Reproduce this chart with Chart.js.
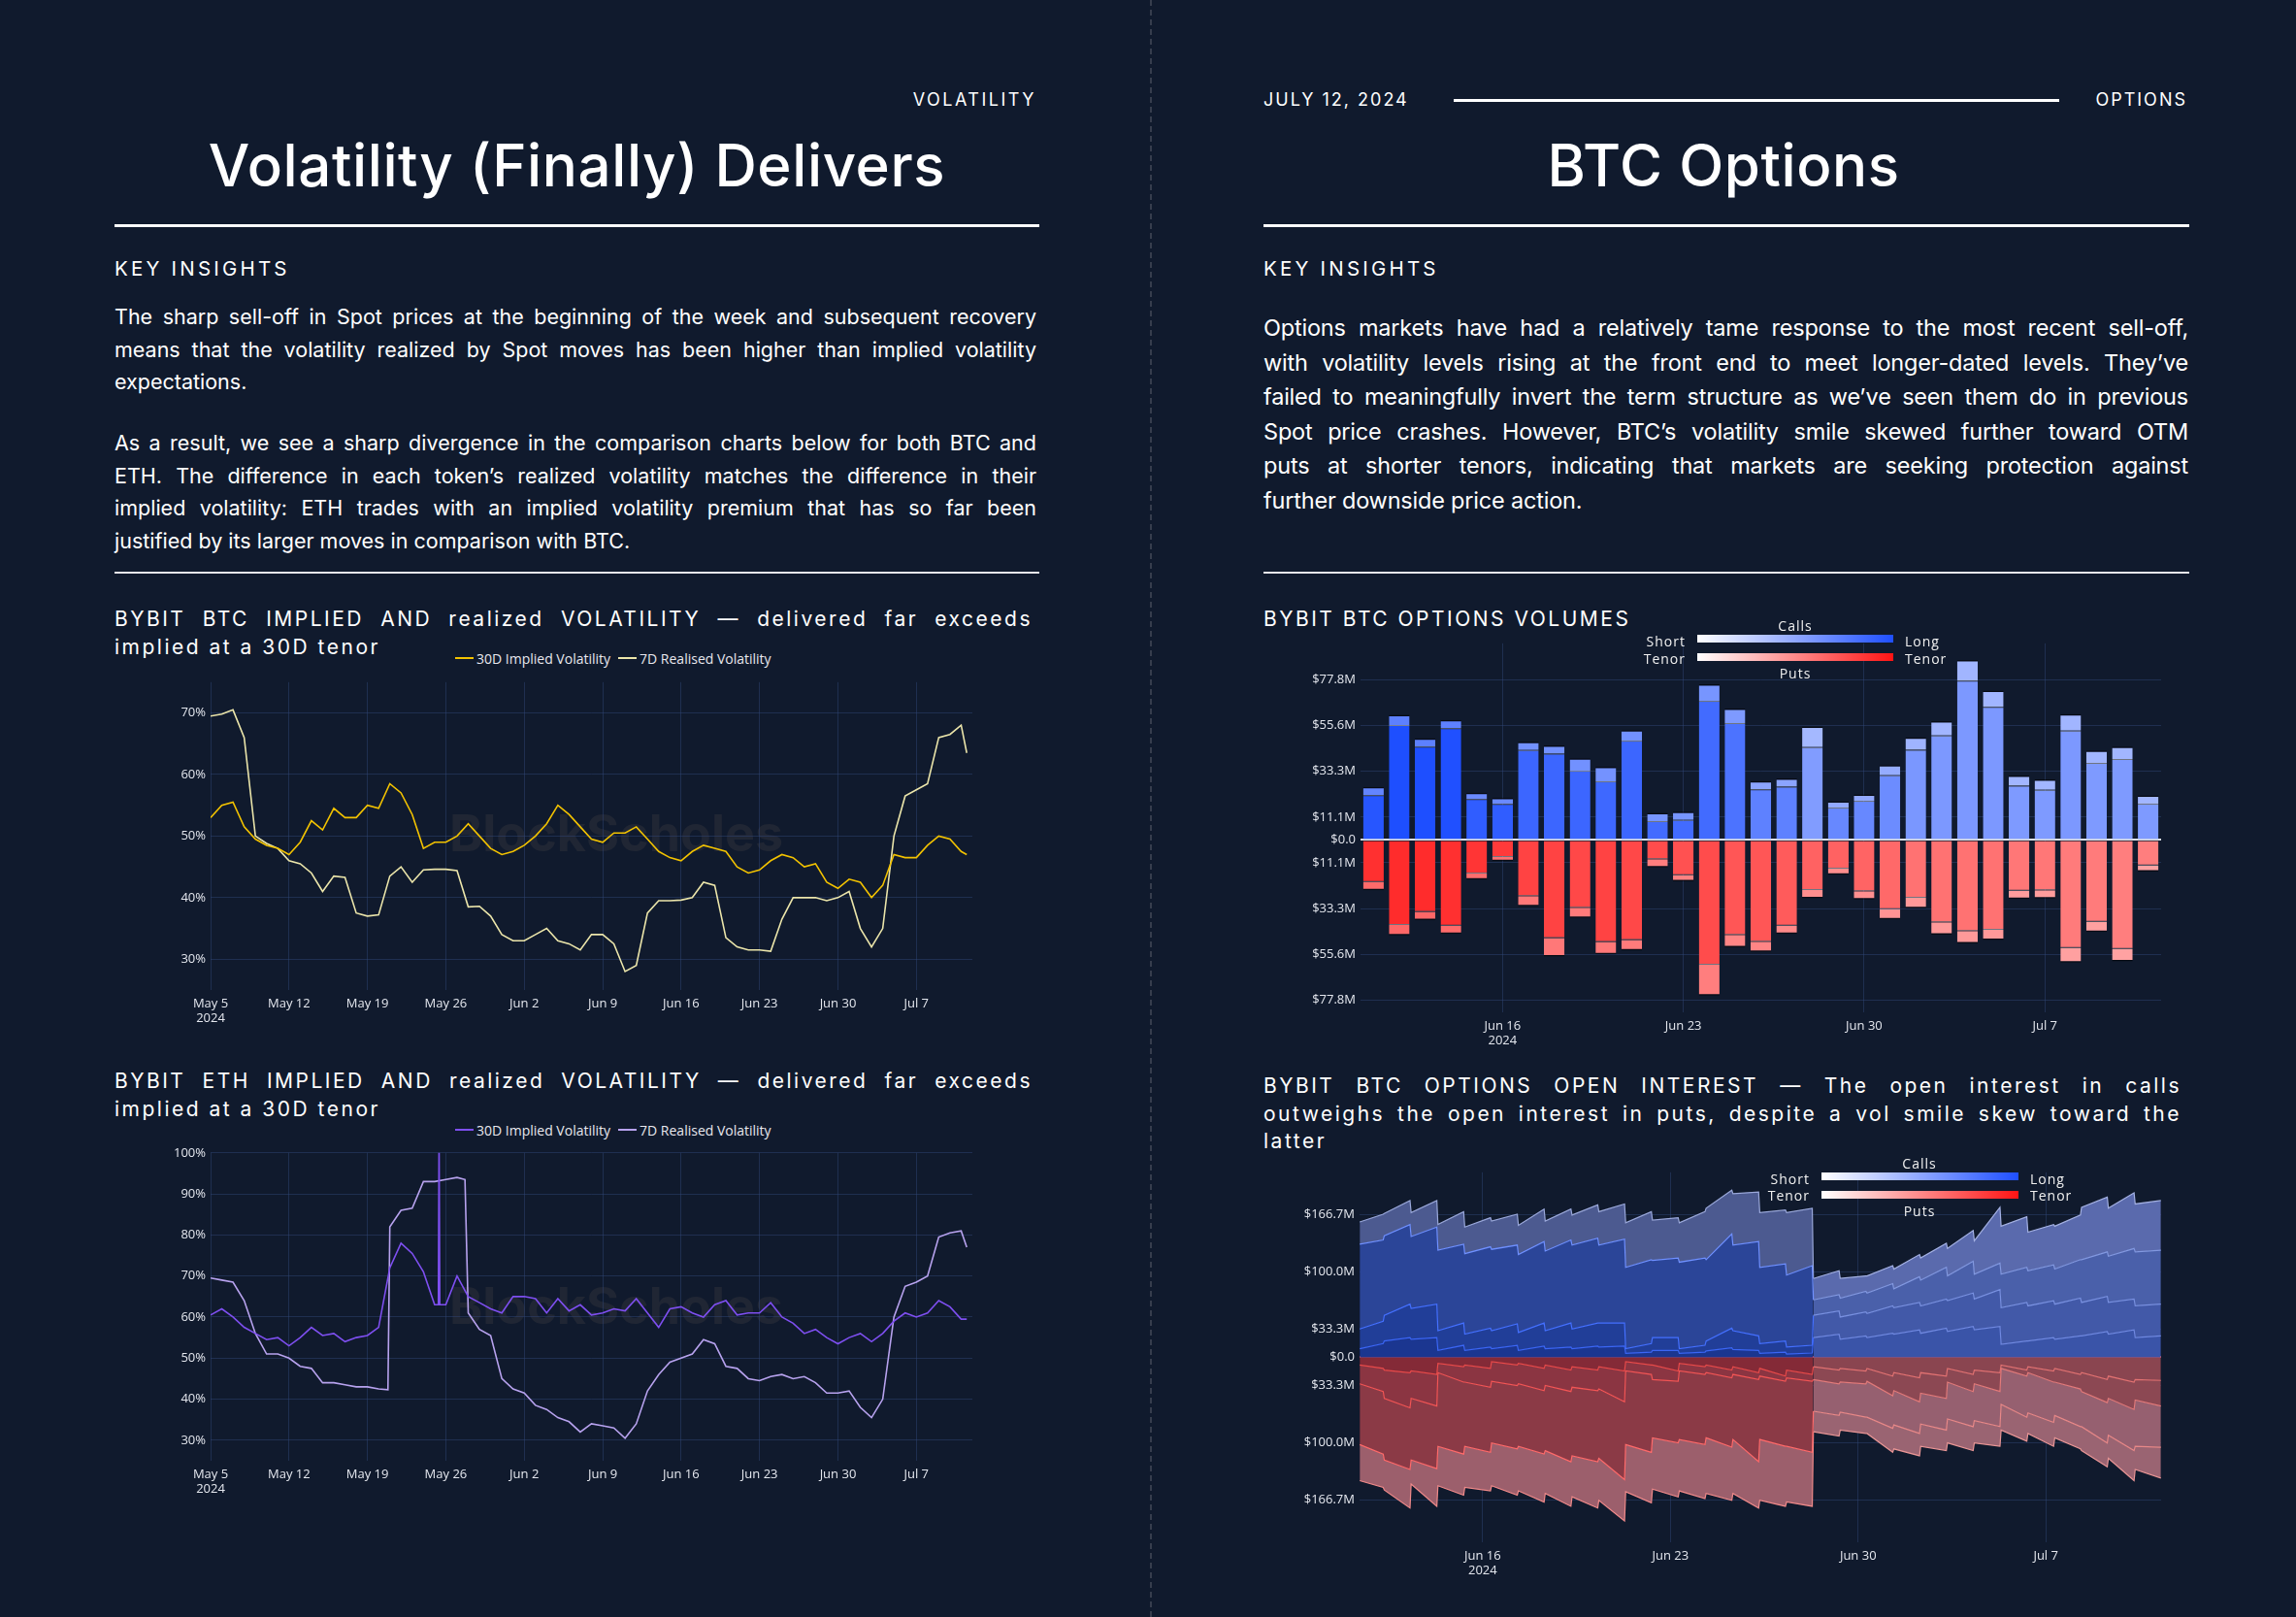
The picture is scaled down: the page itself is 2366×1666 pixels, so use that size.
<!DOCTYPE html>
<html>
<head>
<meta charset="utf-8">
<title>Volatility (Finally) Delivers / BTC Options</title>
<script src="https://cdn.jsdelivr.net/npm/chart.js@4.4.1/dist/chart.umd.min.js"></script>
<style>
  html, body { margin: 0; padding: 0; background: #101a2d; }
  body { position: relative; width: 2366px; height: 1666px; overflow: hidden; font-family: Inter, "Open Sans", sans-serif; color: #fff; }
  .a { position: absolute; white-space: nowrap; }
  .kicker { font-size: 18px; line-height: 22px; letter-spacing: 2.5px; }
  .h1 { font-size: 60px; line-height: 70px; text-align: center; font-weight: 500; letter-spacing: 0.6px; }
  .rule { background: #fff; height: 3px; }
  .thin { background: #e6e6ea; height: 2px; }
  .ki { font-size: 20.5px; line-height: 24px; letter-spacing: 3.2px; }
  .para div, .ctitle div { text-align: justify; text-align-last: justify; white-space: nowrap; }
  .para div.last, .ctitle div.last { text-align-last: left; }
  .ctitle { font-size: 21px; line-height: 29px; letter-spacing: 2.5px; }
  .legend { font-family: "Open Sans", sans-serif; font-size: 14px; color: #e8e8ee; display: flex; align-items: center; height: 18px; }
  .legend i { display: inline-block; width: 19px; height: 2px; margin-right: 3px; }
  .cb { font-family: "Open Sans", sans-serif; font-size: 14px; letter-spacing: 1px; color: #f0f0f0; line-height: 18px; }
  .wm { font-size: 52px; font-weight: 700; color: #202634; transform: translate(-50%, -50%); }
  .box { position: absolute; }
</style>
</head>
<body>

<div class="a" style="left:1185px;top:0;height:1666px;border-left:2px dashed #363d4d"></div>

<!-- left page -->
<div class="a kicker" style="left:118px;top:92px;width:950px;text-align:right">VOLATILITY</div>
<div class="a h1" style="left:118px;top:135px;width:953px">Volatility (Finally) Delivers</div>
<div class="a rule" style="left:118px;top:231px;width:953px"></div>
<div class="a ki" style="left:118px;top:265px">KEY INSIGHTS</div>
<div class="a para" style="left:118px;top:310px;width:950px;font-size:21.5px;line-height:33.5px">
  <div>The sharp sell-off in Spot prices at the beginning of the week and subsequent recovery</div>
  <div>means that the volatility realized by Spot moves has been higher than implied volatility</div>
  <div class="last">expectations.</div>
</div>
<div class="a para" style="left:118px;top:440px;width:950px;font-size:21.5px;line-height:33.5px">
  <div>As a result, we see a sharp divergence in the comparison charts below for both BTC and</div>
  <div>ETH. The difference in each token’s realized volatility matches the difference in their</div>
  <div>implied volatility: ETH trades with an implied volatility premium that has so far been</div>
  <div class="last">justified by its larger moves in comparison with BTC.</div>
</div>
<div class="a thin" style="left:118px;top:589px;width:953px"></div>

<div class="a ctitle" style="left:118px;top:623px;width:946px">
  <div>BYBIT BTC IMPLIED AND realized VOLATILITY — delivered far exceeds</div>
  <div class="last">implied at a 30D tenor</div>
</div>
<div class="a legend" style="left:469px;top:669px">
  <i style="background:#f2c200"></i><span>30D Implied Volatility</span>
  <i style="background:#ebe5aa;margin-left:8px"></i><span>7D Realised Volatility</span>
</div>
<div class="a wm" style="left:635px;top:858px">BlockScholes</div>
<div class="box" style="left:160px;top:690px;width:860px;height:380px"><canvas id="btcVol"></canvas></div>

<div class="a ctitle" style="left:118px;top:1099px;width:946px">
  <div>BYBIT ETH IMPLIED AND realized VOLATILITY — delivered far exceeds</div>
  <div class="last">implied at a 30D tenor</div>
</div>
<div class="a legend" style="left:469px;top:1155px">
  <i style="background:#7e4ff0"></i><span>30D Implied Volatility</span>
  <i style="background:#b7a2ee;margin-left:8px"></i><span>7D Realised Volatility</span>
</div>
<div class="a wm" style="left:635px;top:1345px">BlockScholes</div>
<div class="box" style="left:160px;top:1175px;width:860px;height:385px"><canvas id="ethVol"></canvas></div>

<!-- right page -->
<div class="a kicker" style="left:1302px;top:92px;letter-spacing:2px">JULY 12, 2024</div>
<div class="a rule" style="left:1498px;top:102px;width:624px"></div>
<div class="a kicker" style="left:1302px;top:92px;width:952px;text-align:right;letter-spacing:2px">OPTIONS</div>
<div class="a h1" style="left:1300px;top:135px;width:952px">BTC Options</div>
<div class="a rule" style="left:1302px;top:231px;width:954px"></div>
<div class="a ki" style="left:1302px;top:265px">KEY INSIGHTS</div>
<div class="a para" style="left:1302px;top:320px;width:953px;font-size:23.5px;line-height:35.6px;letter-spacing:-0.2px">
  <div>Options markets have had a relatively tame response to the most recent sell-off,</div>
  <div>with volatility levels rising at the front end to meet longer-dated levels. They’ve</div>
  <div>failed to meaningfully invert the term structure as we’ve seen them do in previous</div>
  <div>Spot price crashes. However, BTC’s volatility smile skewed further toward OTM</div>
  <div>puts at shorter tenors, indicating that markets are seeking protection against</div>
  <div class="last">further downside price action.</div>
</div>
<div class="a thin" style="left:1302px;top:589px;width:954px"></div>

<div class="a ctitle" style="left:1302px;top:623px">
  <div class="last">BYBIT BTC OPTIONS VOLUMES</div>
</div>
<div class="box" style="left:1340px;top:650px;width:900px;height:440px"><canvas id="optVol"></canvas></div>
<div class="a cb" style="left:1800px;top:636px;width:100px;text-align:center">Calls</div>
<div class="a cb" style="left:1637px;top:652px;width:100px;text-align:right">Short</div>
<div class="a" style="left:1749px;top:654px;width:202px;height:8px;background:linear-gradient(90deg,#ffffff,#1f4fff)"></div>
<div class="a cb" style="left:1963px;top:652px">Long</div>
<div class="a cb" style="left:1637px;top:670px;width:100px;text-align:right">Tenor</div>
<div class="a" style="left:1749px;top:673px;width:202px;height:8px;background:linear-gradient(90deg,#ffffff,#ff1414)"></div>
<div class="a cb" style="left:1963px;top:670px">Tenor</div>
<div class="a cb" style="left:1800px;top:685px;width:100px;text-align:center">Puts</div>

<div class="a ctitle" style="left:1302px;top:1105px;width:946px;line-height:28.5px">
  <div>BYBIT BTC OPTIONS OPEN INTEREST — The open interest in calls</div>
  <div>outweighs the open interest in puts, despite a vol smile skew toward the</div>
  <div class="last">latter</div>
</div>
<div class="box" style="left:1330px;top:1195px;width:910px;height:440px"><canvas id="optOi"></canvas></div>
<div class="a cb" style="left:1928px;top:1190px;width:100px;text-align:center">Calls</div>
<div class="a cb" style="left:1765px;top:1206px;width:100px;text-align:right">Short</div>
<div class="a" style="left:1877px;top:1208px;width:203px;height:8px;background:linear-gradient(90deg,#ffffff,#1f4fff)"></div>
<div class="a cb" style="left:2092px;top:1206px">Long</div>
<div class="a cb" style="left:1765px;top:1223px;width:100px;text-align:right">Tenor</div>
<div class="a" style="left:1877px;top:1227px;width:203px;height:8px;background:linear-gradient(90deg,#ffffff,#ff1414)"></div>
<div class="a cb" style="left:2092px;top:1223px">Tenor</div>
<div class="a cb" style="left:1928px;top:1239px;width:100px;text-align:center">Puts</div>

<script>
// ---------- data ----------
// daily volatility readings, May 5 to Jul 11 2024, plus a last reading at Jul 11 12:00
const volStart = '2024-05-05';
const volLast = '2024-07-11T12:00';
const volTickDates = ['2024-05-05', '2024-05-12', '2024-05-19', '2024-05-26', '2024-06-02',
  '2024-06-09', '2024-06-16', '2024-06-23', '2024-06-30', '2024-07-07'];
const btcVolTicks = [30, 40, 50, 60, 70];
const ethVolTicks = [30, 40, 50, 60, 70, 80, 90, 100];

const btcIv30 = [53, 55, 55.5, 51.5, 49.5, 48.5, 48, 47, 49, 52.5,
  51, 54.5, 53, 53, 55, 54.5, 58.5, 57, 53.5, 48,
  49, 49, 50, 52, 50, 48, 47, 47.5, 48.5, 50,
  52, 55, 53.5, 51.5, 49.5, 49, 50.5, 50.5, 51.5, 49.5,
  47.5, 46.5, 46, 47.5, 48.5, 48, 47.5, 45, 44, 44.5,
  46, 47, 46.5, 45, 45.5, 42.5, 41.5, 43, 42.5, 40,
  42, 47, 46.5, 46.5, 48.5, 50, 49.5, 47.5,
  47];
const btcRv7 = [69.5, 69.8, 70.5, 66, 50, 48.8, 48, 46, 45.5, 44,
  41, 43.5, 43.3, 37.5, 37, 37.2, 43.5, 45, 42.5, 44.5,
  44.6, 44.6, 44.4, 38.5, 38.6, 37, 34, 33, 33, 34,
  35, 33, 32.5, 31.5, 34, 34, 32.5, 28, 29, 37.5,
  39.5, 39.5, 39.6, 40, 42.5, 42, 33.5, 32, 31.5, 31.5,
  31.3, 36.5, 40, 40, 40, 39.5, 40, 41, 35, 32,
  35, 50, 56.5, 57.5, 58.5, 66, 66.5, 68,
  63.5];
const ethIv30 = [60.5, 62, 60, 57.5, 56, 54.5, 55, 53, 55, 57.5,
  55.5, 56, 54, 55, 55.5, 57.5, 72, 78, 75.5, 71,
  63, 63, 70, 65, 63.5, 62, 61, 65, 65, 64.5,
  61, 64.5, 61.5, 63, 60.5, 61, 62, 61.5, 64.5, 61,
  57.5, 62, 62.5, 61, 60, 63, 64, 60.5, 61, 61,
  63.5, 60, 58.5, 56, 57, 55, 53.5, 55, 56, 54,
  56, 59, 61, 60, 61, 64, 62.5, 59.5,
  59.5];
const ethRv7 = [69.5, 69, 68.5, 64, 56, 51, 51, 50, 48, 47.5,
  44, 44, 43.5, 43, 43, 42.5, 82, 86, 86.5, 93,
  93, 93.5, 94, 61, 57, 55.5, 45, 42.5, 41.5, 38.5,
  37.5, 35.5, 34.5, 32, 34, 33.5, 33, 30.5, 34, 42,
  46, 49, 50, 51, 54.5, 53.5, 48, 47.5, 45, 44.5,
  45.5, 46, 45, 45.5, 44, 41.5, 41.5, 42, 38, 35.5,
  40, 60, 67.5, 68.5, 70, 79.5, 80.5, 81,
  77];
// intraday readings around the sharp moves
const ethIvSpikeTimes = ['2024-05-25T08:00', '2024-05-25T09:30', '2024-05-25T11:00'];
const ethIvSpike = [63, 104, 63];
const ethRvStepTimes = ['2024-05-20T20:00', '2024-05-27T17:00'];
const ethRvStep = [42.3, 93.5];

// daily BTC option volumes, Jun 11 to Jul 11 2024 ($M); puts negative
const optStart = '2024-06-11';
const optTickDates = ['2024-06-16', '2024-06-23', '2024-06-30', '2024-07-07'];
const volMTicks = [-77.8, -55.6, -33.3, -11.1, 0, 11.1, 33.3, 55.6, 77.8];
const callVolLong = [21.8, 55.8, 45.3, 54.3, 19.9, 17.5, 43.7, 41.9, 33.7, 28.5, 48.3, 9.1, 9.7, 67.6, 56.8, 24.6,
  25.9, 45.1, 15.8, 19.1, 31.4, 43.8, 50.7, 77.4, 64.6, 26.3, 24.4, 53.1, 37.4, 39.3, 17.6];
const callVolShort = [4, 5, 4, 4, 3, 3, 4, 4, 6, 7, 5, 4, 4, 8, 7, 4, 4, 10, 3, 3, 5, 6, 7, 10, 8, 5, 5, 8, 6, 6, 4];
const putVolLong = [-20.4, -41.3, -34.9, -41.6, -16.3, -8.3, -27.2, -47.6, -32.9, -49.5, -48.6, -9.4, -17.1, -60.6,
  -46.1, -49.4, -41.6, -24.3, -13.9, -24.9, -33.6, -28.1, -40.0, -44.2, -43.6, -24.7, -24.4, -52.5, -39.7, -52.9, -12.4];
const putVolShort = [-4, -5, -4, -4, -3, -2, -5, -9, -5, -6, -5, -4, -3, -15, -6, -5, -4, -4, -3, -4, -5, -5, -6, -6,
  -5, -4, -4, -7, -5, -6, -3];
// volume-weighted tenor of each day's trades, as a share of the short-to-long colour scale
const callTenorShade = [0.94, 0.98, 0.98, 0.97, 0.9, 0.9, 0.85, 0.85, 0.85, 0.84, 0.85, 0.82, 0.82, 0.82, 0.78,
  0.7, 0.7, 0.55, 0.66, 0.66, 0.64, 0.58, 0.57, 0.57, 0.57, 0.56, 0.56, 0.57, 0.56, 0.56, 0.56];
const putTenorShade = [0.88, 0.9, 0.9, 0.88, 0.86, 0.84, 0.8, 0.8, 0.78, 0.8, 0.78, 0.76, 0.74, 0.76, 0.72,
  0.72, 0.7, 0.67, 0.67, 0.66, 0.64, 0.6, 0.6, 0.6, 0.6, 0.58, 0.58, 0.56, 0.56, 0.55, 0.55];

// BTC open interest ($M): per day, value after the 08:00 expiry then value just before the next one
const oiTicks = [-166.7, -100, -33.3, 0, 33.3, 100, 166.7];
const oiRollTime = '2024-06-28T07:30';
const oiCall1 = [10, 16, 19, 23, 21, 23, 8, 14, 8, 12, 10, 14, 8, 13, 10, 12, 10, 13, 12, 13,
  4.5, 6, 8, 8, 4.5, 6, 7.5, 11, 9, 8, 4.5, 6, 3.7, 5, 23, 27, 21, 25, 23, 28,
  27, 32, 28, 34, 30, 36, 32, 36, 15, 19, 19, 23, 21, 25, 25, 30, 27, 32, 23, 25];
const oiCall2 = [33, 42, 49, 62, 57, 62, 31, 40, 27, 34, 31, 39, 29, 40, 31, 40, 33, 40, 40, 40,
  10, 16, 23, 23, 10, 14, 19, 34, 31, 25, 16, 19, 12, 14, 49, 54, 47, 53, 51, 60,
  58, 64, 60, 68, 66, 75, 68, 79, 58, 64, 60, 66, 62, 69, 64, 71, 64, 68, 60, 62];
const oiCall3 = [132, 137, 142, 155, 141, 152, 125, 132, 121, 129, 126, 131, 120, 135, 124, 137, 131, 139, 131, 138,
  105, 114, 113, 116, 111, 116, 114, 144, 131, 135, 105, 109, 96, 107, 67, 73, 69, 77, 75, 86,
  80, 94, 90, 105, 95, 112, 97, 110, 97, 105, 101, 108, 103, 114, 114, 123, 118, 127, 123, 125];
const oiCall4 = [158, 167, 168, 183, 169, 183, 155, 170, 152, 163, 159, 167, 154, 173, 159, 173, 166, 178, 170, 179,
  157, 170, 160, 163, 157, 170, 174, 195, 191, 193, 169, 172, 169, 174, 92, 101, 92, 95, 95, 107,
  103, 120, 116, 133, 127, 148, 136, 175, 153, 164, 146, 155, 153, 166, 175, 187, 174, 192, 179, 183];
const oiPut1 = [-9, -13, -15, -18, -16, -20, -7, -11, -9, -13, -5, -9, -7, -13, -9, -15, -11, -15, -11, -16,
  -5, -9, -9, -16, -7, -11, -9, -15, -11, -18, -13, -22, -15, -20, -11, -15, -13, -16, -13, -22,
  -18, -24, -18, -22, -13, -20, -15, -18, -9, -15, -11, -16, -13, -20, -18, -26, -22, -29, -26, -27];
const oiPut2 = [-31, -40, -48, -59, -48, -57, -18, -29, -29, -35, -28, -33, -31, -39, -33, -40, -35, -39, -37, -52,
  -16, -20, -26, -28, -16, -20, -18, -24, -20, -26, -22, -28, -24, -28, -26, -31, -29, -31, -28, -45,
  -39, -52, -42, -48, -29, -40, -31, -40, -13, -22, -18, -29, -29, -37, -40, -53, -48, -61, -50, -57];
const oiPut3 = [-102, -113, -120, -131, -120, -130, -104, -113, -104, -111, -100, -107, -104, -113, -109, -122, -115, -122, -118, -143,
  -102, -111, -94, -100, -96, -102, -94, -105, -96, -122, -96, -104, -104, -111, -63, -68, -64, -70, -70, -83,
  -79, -89, -78, -85, -72, -81, -74, -81, -55, -70, -65, -76, -68, -81, -81, -100, -91, -109, -104, -105];
const oiPut4 = [-144, -152, -155, -176, -148, -174, -150, -161, -152, -156, -150, -161, -156, -169, -159, -174, -163, -176, -167, -191,
  -157, -170, -154, -163, -156, -165, -159, -167, -159, -176, -167, -174, -169, -174, -87, -92, -85, -89, -89, -111,
  -107, -115, -104, -109, -100, -109, -100, -104, -85, -98, -89, -104, -94, -107, -109, -128, -118, -144, -131, -141];

// ---------- helpers ----------
const MONTHS = ['Jan', 'Feb', 'Mar', 'Apr', 'May', 'Jun', 'Jul', 'Aug', 'Sep', 'Oct', 'Nov', 'Dec'];

function addDays(iso, n) {
  const d = new Date(iso + 'T00:00:00Z');
  d.setUTCDate(d.getUTCDate() + n);
  return d.toISOString().slice(0, 10);
}

function dayNum(t, base) {
  const s = t.length === 10 ? t + 'T00:00' : t;
  return (Date.parse(s + ':00Z') - Date.parse(base + 'T00:00:00Z')) / 864e5;
}

function fmtDay(iso) {
  const d = new Date(iso + 'T00:00:00Z');
  return MONTHS[d.getUTCMonth()] + ' ' + d.getUTCDate();
}

function pts(times, vals, base) {
  return times.map((t, i) => ({ x: dayNum(t, base), y: vals[i] }));
}

const volTimes = [];
for (let i = 0; i < 68; i++) volTimes.push(addDays(volStart, i));
volTimes.push(volLast);

const optDays = [];
for (let i = 0; i < 31; i++) optDays.push(addDays(optStart, i));

// open interest sample times: after the 08:00 expiry, and just before the next one
const oiTimes = [];
for (let i = 0; i < 30; i++) {
  const day = addDays(optStart, i);
  oiTimes.push(day + (i === 0 ? 'T10:00' : 'T08:00'));
  oiTimes.push(addDays(optStart, i + 1) + 'T07:00');
}

// ---------- styling ----------
Chart.defaults.animation = false;
Chart.defaults.font.family = "'Open Sans', sans-serif";

const GRID = 'rgba(52,74,124,0.45)';
const TICK_FONT = { family: "'Open Sans', sans-serif", size: 13 };
const TICK_COLOR = '#e4e7ee';

function xAxis(min, max, tickDates, base, height) {
  return {
    type: 'linear', min: min, max: max, offset: false,
    grid: { color: GRID, drawTicks: false, offset: false },
    border: { display: false },
    ticks: {
      color: TICK_COLOR, font: TICK_FONT, padding: 6, maxRotation: 0, autoSkip: false,
      callback: (v, i) => i === 0 ? [fmtDay(tickDates[i]), '2024'] : fmtDay(tickDates[i])
    },
    afterBuildTicks: s => { s.ticks = tickDates.map(d => ({ value: dayNum(d, base) })); },
    afterFit: s => { s.height = height; }
  };
}

function yAxis(min, max, ticks, fmt, width, zeroColor) {
  return {
    min: min, max: max,
    grid: {
      drawTicks: false,
      color: c => (zeroColor && c.tick && c.tick.value === 0) ? zeroColor : GRID,
      lineWidth: c => (zeroColor && c.tick && c.tick.value === 0) ? 2 : 1
    },
    border: { display: false },
    ticks: { color: TICK_COLOR, font: TICK_FONT, padding: 5, callback: fmt },
    afterBuildTicks: s => { s.ticks = ticks.map(v => ({ value: v })); },
    afterFit: s => { s.width = width; }
  };
}

const pct = v => v + '%';
const usdM = v => v === 0 ? '$0.0' : '$' + Math.abs(v).toFixed(1) + 'M';

function lineSet(label, data, color) {
  return { label: label, data: data, borderColor: color, borderWidth: 1.6, pointRadius: 0, tension: 0, fill: false };
}

const baseOpts = {
  responsive: true,
  maintainAspectRatio: false,
  plugins: { legend: { display: false }, tooltip: { enabled: false } }
};

// ---------- BTC implied vs realised ----------
new Chart(document.getElementById('btcVol'), {
  type: 'line',
  data: {
    datasets: [
      lineSet('30D Implied Volatility', pts(volTimes, btcIv30, volStart), '#f2c200'),
      lineSet('7D Realised Volatility', pts(volTimes, btcRv7, volStart), '#ebe5aa')
    ]
  },
  options: Object.assign({}, baseOpts, {
    layout: { padding: { left: 0, right: 18, top: 7, bottom: 0 } },
    scales: {
      x: xAxis(0, 68, volTickDates, volStart, 50),
      y: yAxis(25, 75, btcVolTicks, pct, 57)
    }
  })
});

// ---------- ETH implied vs realised ----------
const byX = (a, b) => a.x - b.x;
const ethIvPts = pts(volTimes, ethIv30, volStart).concat(pts(ethIvSpikeTimes, ethIvSpike, volStart)).sort(byX);
const ethRvPts = pts(volTimes, ethRv7, volStart).concat(pts(ethRvStepTimes, ethRvStep, volStart)).sort(byX);

new Chart(document.getElementById('ethVol'), {
  type: 'line',
  data: {
    datasets: [
      lineSet('30D Implied Volatility', ethIvPts, '#7e4ff0'),
      lineSet('7D Realised Volatility', ethRvPts, '#b7a2ee')
    ]
  },
  options: Object.assign({}, baseOpts, {
    layout: { padding: { left: 0, right: 18, top: 9, bottom: 0 } },
    scales: {
      x: xAxis(0, 68, volTickDates, volStart, 55),
      y: yAxis(25, 100, ethVolTicks, pct, 57)
    }
  })
});

// ---------- option volumes ----------
function callColor(s) { return 'rgb(' + Math.round(255 - 230 * s) + ',' + Math.round(255 - 180 * s) + ',255)'; }
function putColor(s) { const g = Math.round(255 - 235 * s); return 'rgb(255,' + g + ',' + g + ')'; }

function barSet(label, vals, colors, border) {
  return Object.assign({
    label: label,
    data: pts(optDays, vals, optStart),
    backgroundColor: colors,
    stack: 'v',
    barPercentage: 0.8,
    categoryPercentage: 1,
    borderSkipped: false
  }, border);
}

new Chart(document.getElementById('optVol'), {
  type: 'bar',
  data: {
    datasets: [
      barSet('Calls, longer tenors', callVolLong, callTenorShade.map(callColor),
        { borderWidth: { top: 1 }, borderColor: 'rgba(255,255,255,0.4)' }),
      barSet('Calls, shorter tenors', callVolShort, callTenorShade.map(s => callColor(s * 0.72)),
        { borderWidth: { top: 1.5 }, borderColor: 'rgba(0,0,0,0.55)' }),
      barSet('Puts, longer tenors', putVolLong, putTenorShade.map(putColor),
        { borderWidth: { bottom: 1 }, borderColor: 'rgba(255,255,255,0.4)' }),
      barSet('Puts, shorter tenors', putVolShort, putTenorShade.map(s => putColor(s * 0.72)),
        { borderWidth: { bottom: 1.5 }, borderColor: 'rgba(0,0,0,0.55)' })
    ]
  },
  options: Object.assign({}, baseOpts, {
    layout: { padding: { left: 0, right: 13, top: 8, bottom: 0 } },
    scales: {
      x: xAxis(-0.5, 30.5, optTickDates, optStart, 47),
      y: Object.assign(yAxis(-83.7, 95.5, volMTicks, usdM, 62, '#d9dde6'), { stacked: true, z: 1 })
    }
  })
});

// ---------- open interest ----------
const rollDay = dayNum(oiRollTime, optStart);
const CALL_FILL = [['#1b3690', '#3a54a8'], ['#213e98', '#4259a8'], ['#2b4598', '#4a60aa'], ['#4c5a90', '#5a6aad']];
const CALL_LINE = [['#3b66f5', '#6f88e0'], ['#4470ff', '#7890e0'], ['#6f90ff', '#8298e0'], ['#9aa8da', '#a3b0e3']];
const PUT_FILL = [['#842a37', '#8a4550'], ['#8b3542', '#8c4853'], ['#8b3a46', '#966070'], ['#9c5f6c', '#9a6472']];
const PUT_LINE = [['#e84a4a', '#e27272'], ['#f25555', '#e27a7a'], ['#ff6a6a', '#e88888'], ['#f08a8a', '#e89595']];

function oiSet(label, vals, fill, fills, lines) {
  const pick = pair => c => (c.p0.parsed.x < rollDay ? pair[0] : pair[1]);
  return {
    label: label,
    data: pts(oiTimes, vals, optStart),
    fill: fill,
    backgroundColor: fills[0],
    borderColor: lines[0],
    borderWidth: 1.2,
    pointRadius: 0,
    tension: 0,
    segment: { backgroundColor: pick(fills), borderColor: pick(lines) }
  };
}

new Chart(document.getElementById('optOi'), {
  type: 'line',
  data: {
    datasets: [
      oiSet('Calls 1', oiCall1, 'origin', CALL_FILL[0], CALL_LINE[0]),
      oiSet('Calls 2', oiCall2, '-1', CALL_FILL[1], CALL_LINE[1]),
      oiSet('Calls 3', oiCall3, '-1', CALL_FILL[2], CALL_LINE[2]),
      oiSet('Calls 4', oiCall4, '-1', CALL_FILL[3], CALL_LINE[3]),
      oiSet('Puts 1', oiPut1, 'origin', PUT_FILL[0], PUT_LINE[0]),
      oiSet('Puts 2', oiPut2, '-1', PUT_FILL[1], PUT_LINE[1]),
      oiSet('Puts 3', oiPut3, '-1', PUT_FILL[2], PUT_LINE[2]),
      oiSet('Puts 4', oiPut4, '-1', PUT_FILL[3], PUT_LINE[3])
    ]
  },
  options: Object.assign({}, baseOpts, {
    layout: { padding: { left: 0, right: 13, top: 8, bottom: 0 } },
    scales: {
      x: xAxis(0.41, 30.3, optTickDates, optStart, 46),
      y: Object.assign(yAxis(-216, 216, oiTicks, usdM, 71, '#ff5a5a'), { z: 1 })
    }
  })
});
</script>
</body>
</html>
